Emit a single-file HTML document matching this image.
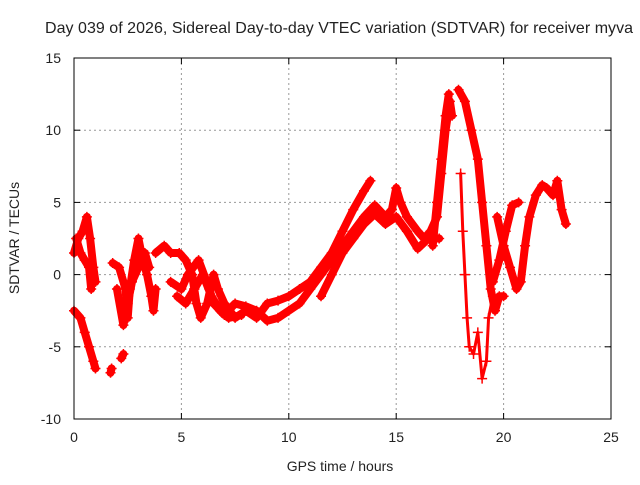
<!DOCTYPE html>
<html><head><meta charset="utf-8"><style>
body{margin:0;background:#fff}
svg text{font-family:"Liberation Sans",sans-serif;font-size:14px;fill:#222}
</style></head><body>
<svg id="chart" width="640" height="480">
<rect width="640" height="480" fill="#fff"/>
<text x="45" y="33" text-anchor="start" style="font-size:16px" textLength="588">Day 039 of 2026, Sidereal Day-to-day VTEC variation (SDTVAR) for receiver myva</text>
<g id="grid"></g><g id="marks"></g><g id="axes"></g>
<text x="340" y="471" text-anchor="middle">GPS time / hours</text>
<text transform="translate(19,238) rotate(-90)" text-anchor="middle">SDTVAR / TECUs</text>
</svg>
<script>
const xTicks=[0,5,10,15,20,25];
const yTicks=[-10,-5,0,5,10,15];
const track1=[[0,1.5],[0.2,2.5],[0.4,3],[0.6,4],[0.75,2.5],[0.9,0.5],[1.0,-0.5]];
const track1b=[[0.1,2.5],[0.3,1.5],[0.5,1],[0.7,0.5],[0.8,-1]];
const track2=[[0,-2.5],[0.3,-3],[0.5,-4],[0.7,-5],[0.9,-6],[1.0,-6.5]];
const track3=[[1.7,-6.8],[1.75,-6.5]];
const track4=[[2.2,-5.8],[2.3,-5.5]];
const track5=[[1.8,0.8],[2.1,0.5],[2.4,-1],[2.5,-3],[2.6,-1],[2.8,1],[3.0,2.5],[3.2,1],[3.4,0],[3.6,-1.5],[3.7,-2.5],[3.8,-1]];
const track6=[[2.0,-1],[2.3,-3.5],[2.5,-2],[2.7,-0.5],[3.0,0.5],[3.3,1.5],[3.5,0.5]];
const track7=[[3.8,1.5],[4.2,2],[4.5,1.5],[4.9,1.5],[5.2,1],[5.5,0],[5.6,-1],[5.7,-2],[5.9,-3],[6.2,-2],[6.5,0],[6.7,-1],[7,-2],[7.5,-3],[8,-2.5],[8.5,-3],[9,-2],[9.5,-1.8],[10,-1.5],[10.5,-1],[11,-0.5],[11.5,0.5],[12,1.5],[12.5,3],[13,4.5],[13.5,5.8],[13.8,6.5]];
const track8=[[4.5,-0.5],[5,-1],[5.3,0],[5.8,1],[6.3,-1],[6.5,-2],[7,-2.8],[7.5,-2],[8,-2.2],[8.5,-2.5],[9,-3.2],[9.5,-3],[10,-2.5],[10.5,-2],[11,-1],[11.5,0],[12,1],[12.5,2],[13,3],[13.5,4],[14,4.8],[14.5,4],[14.8,4.5],[15,6],[15.2,5],[15.5,4],[16,3],[16.3,2.5],[16.6,3],[16.9,4],[17.1,7],[17.3,10],[17.5,12],[17.6,11]];
const track8b=[[4.8,-1.5],[5.2,-2],[5.6,-1],[6.0,0],[6.4,-1.5],[6.8,-2.5],[7.2,-3],[7.8,-2.8]];
const track9=[[11.5,-1.5],[12,0],[12.5,1.5],[13,2.5],[13.5,3.5],[14,4.2],[14.5,3.5],[15,4],[15.5,3],[16,1.8],[16.5,2.5],[17,2.5]];
const track9b=[[16.7,2],[16.9,5],[17.1,8],[17.3,11],[17.45,12.5]];
const track10=[[17.9,12.8],[18.2,12],[18.5,10],[18.8,8],[19,5],[19.2,2],[19.4,-1],[19.6,-2.5],[19.8,-1.5],[20,-1.5]];
const track11=[[18.0,7],[18.1,3],[18.2,0],[18.3,-3],[18.4,-5],[18.6,-5.5],[18.8,-4],[19.0,-7.2],[19.2,-6],[19.3,-3],[19.5,-1.5]];
const track12=[[19.7,4],[20,2],[20.3,0.5],[20.6,-1],[20.8,-0.5],[21,2],[21.2,4],[21.5,5.5],[21.8,6.2],[22,6],[22.3,5.5],[22.5,6.5],[22.7,4.5],[22.9,3.5]];
const track13=[[19.5,-0.5],[19.8,1],[20.1,3],[20.4,4.8],[20.7,5]];
const tracks=[track1,track1b,track2,track3,track4,track5,track6,track7,track8,track8b,track9,track9b,track10,track11,track12,track13];
const X0=74,X1=611,Y0=419,Y1=58;
const xs=t=>X0+(t-0)/25*(X1-X0);
const ys=v=>Y0-(v+10)/25*(Y0-Y1);
const NS='http://www.w3.org/2000/svg';
function mk(tag,at,parent){const e=document.createElementNS(NS,tag);for(const k in at)e.setAttribute(k,at[k]);parent.appendChild(e);return e;}
const grid=document.getElementById('grid'),axes=document.getElementById('axes'),marks=document.getElementById('marks');
xTicks.forEach(t=>{
 if(t>0&&t<25){const g=mk('line',{x1:xs(t),x2:xs(t),y1:Y1,y2:Y0,stroke:'#999','stroke-dasharray':'2,3'},grid);
 
 }
 const tl=mk('text',{x:xs(t),y:Y0+23,'text-anchor':'middle'},axes);tl.textContent=t;
 
 
 mk('line',{x1:xs(t),x2:xs(t),y1:Y0,y2:Y0-6,stroke:'#000'},axes);
 mk('line',{x1:xs(t),x2:xs(t),y1:Y1,y2:Y1+6,stroke:'#000'},axes);
});
yTicks.forEach(v=>{
 if(v>-10&&v<15){const g=mk('line',{x1:X0,x2:X1,y1:ys(v),y2:ys(v),stroke:'#999','stroke-dasharray':'2,3'},grid);
 
 }
 const tl=mk('text',{x:X0-13,y:ys(v)+5,'text-anchor':'end'},axes);tl.textContent=v;
 
 
 mk('line',{x1:X0,x2:X0+6,y1:ys(v),y2:ys(v),stroke:'#000'},axes);
 mk('line',{x1:X1,x2:X1-6,y1:ys(v),y2:ys(v),stroke:'#000'},axes);
});
const fr=mk('rect',{x:X0,y:Y1,width:X1-X0,height:Y0-Y1,fill:'none',stroke:'#000'},axes);


tracks.forEach(tr=>{
 const w=(tr===track11)?3:8;
 const pl=mk('polyline',{points:tr.map(p=>xs(p[0])+','+ys(p[1])).join(' '),fill:'none',stroke:'#f00','stroke-width':w,'stroke-linejoin':'round','stroke-linecap':'round'},marks);
 
 
 tr.forEach(p=>{
  const x=xs(p[0]),y=ys(p[1]);
  const m=mk('path',{d:`M${x-5},${y}H${x+5}M${x},${y-5}V${y+5}`,stroke:'#f00','stroke-width':1.5},marks);
  
  
 });
});
</script>
</body></html>
